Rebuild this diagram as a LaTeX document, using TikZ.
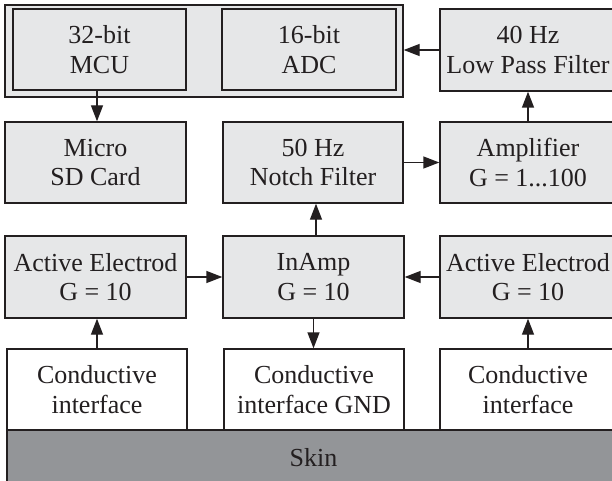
\documentclass[tikz,border=0pt]{standalone}
\usepackage{fontspec}
\setmainfont{Liberation Serif}
\usetikzlibrary{arrows.meta}
\definecolor{boxfill}{HTML}{E6E7E8}
\definecolor{skinfill}{HTML}{939598}
\definecolor{ink}{HTML}{231F20}
\begin{document}
\begin{tikzpicture}[x=1pt,y=-1pt,
  every node/.style={font=\fontsize{26}{29.5}\selectfont, text=ink},
  blk/.style={draw=ink, line width=1.4pt, fill=boxfill, align=center, inner sep=0pt, minimum height=81pt},
  wblk/.style={blk, fill=white},
  arr/.style={draw=ink, line width=1.4pt, -{Triangle[width=12pt,length=16pt]}}]
\clip (0,0) rectangle (612,481);
\fill[white] (0,0) rectangle (612,481);
% group
\node[draw=ink, line width=1.4pt, fill=boxfill, minimum width=398pt, minimum height=92pt, inner sep=0pt] (group) at (204,51) {};
\node[blk, minimum width=173pt] (mcu) at (99.5,49.5) {32-bit\\MCU};
\node[blk, minimum width=174pt] (adc) at (309,49.5) {16-bit\\ADC};
\node[blk, minimum width=176pt, minimum height=82pt] (lpf) at (528,50) {40 Hz\\Low Pass Filter};
% row 2
\node[blk, minimum width=181pt] (sd) at (95.5,162.5) {Micro\\SD Card};
\node[blk, minimum width=180pt] (notch) at (313,162.5) {50 Hz\\Notch Filter};
\node[blk, minimum width=176pt] (amp) at (528,162.5) {Amplifier\\G = 1...100};
% row 3
\node[blk, minimum width=181pt, minimum height=82pt] (ael) at (95.5,277) {Active Electrod\\G = 10};
\node[blk, minimum width=181pt, minimum height=82pt] (inamp) at (313.5,277) {InAmp\\G = 10};
\node[blk, minimum width=176pt, minimum height=82pt] (aer) at (528,277) {Active Electrod\\G = 10};
% row 4
\node[wblk, minimum width=180pt] (cl) at (97,389.5) {Conductive\\interface};
\node[wblk, minimum width=180pt] (cg) at (314,389.5) {Conductive\\interface GND};
\node[wblk, minimum width=176pt] (cr) at (528,389.5) {Conductive\\interface};
% skin
\node[draw=ink, line width=1.4pt, fill=skinfill, minimum width=613pt, minimum height=56pt, inner sep=0pt] (skin) at (313.5,458) {Skin};
% arrows
\draw[arr] ([xshift=-2.5pt]mcu.south) -- ([xshift=-2.5pt]mcu.south |- sd.north);
\draw[arr] (lpf.west) -- (lpf.west -| group.east);
\draw[arr] (amp.north) -- (lpf.south);
\draw[arr] (notch.east) -- (notch.east -| amp.west);
\draw[arr] ([xshift=2.5pt]inamp.north) -- ([xshift=2.5pt]inamp.north |- notch.south);
\draw[arr] (ael.east) -- (inamp.west);
\draw[arr] (aer.west) -- (inamp.east);
\draw[arr] (inamp.south) -- (inamp.south |- cg.north);
\draw[arr] (cl.north) -- (cl.north |- ael.south);
\draw[arr] (cr.north) -- (aer.south);
\end{tikzpicture}
\end{document}
